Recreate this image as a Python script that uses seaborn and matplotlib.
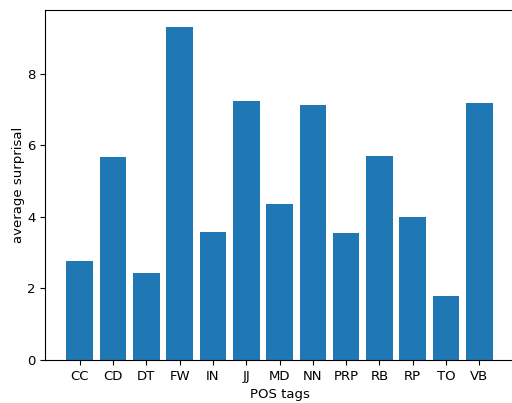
import matplotlib
matplotlib.use("Agg")
import matplotlib.pyplot as plt
import pandas as pd
import seaborn as sns

tags = ['CC', 'CD', 'DT', 'FW', 'IN', 'JJ', 'MD', 'NN', 'PRP', 'RB', 'RP', 'TO', 'VB']
surprisal = [2.76, 5.68, 2.43, 9.32, 3.58, 7.25, 4.36, 7.13, 3.55, 5.70, 4.00, 1.78, 7.19]

df = pd.DataFrame({'tag': tags, 'surprisal': surprisal})

plt.rcParams['font.size'] = 9.5

fig = plt.figure(figsize=(5.12, 4.03), dpi=100)
ax = fig.add_axes([0.088, 0.107, 0.916, 0.868])
sns.barplot(data=df, x='tag', y='surprisal', color='#1f77b4', saturation=1, width=0.8, ax=ax)

# matplotlib-like 5% margins around the bars
n = len(tags)
span = (n - 1) + 0.8
ax.set_xlim(-0.4 - 0.05 * span, n - 1 + 0.4 + 0.05 * span)
ax.set_ylim(0, 9.32 * 1.05)
ax.set_yticks([0, 2, 4, 6, 8])
ax.set_xlabel('POS tags')
ax.set_ylabel('average surprisal', labelpad=1.5)
fig.savefig('out.png', dpi=100)
